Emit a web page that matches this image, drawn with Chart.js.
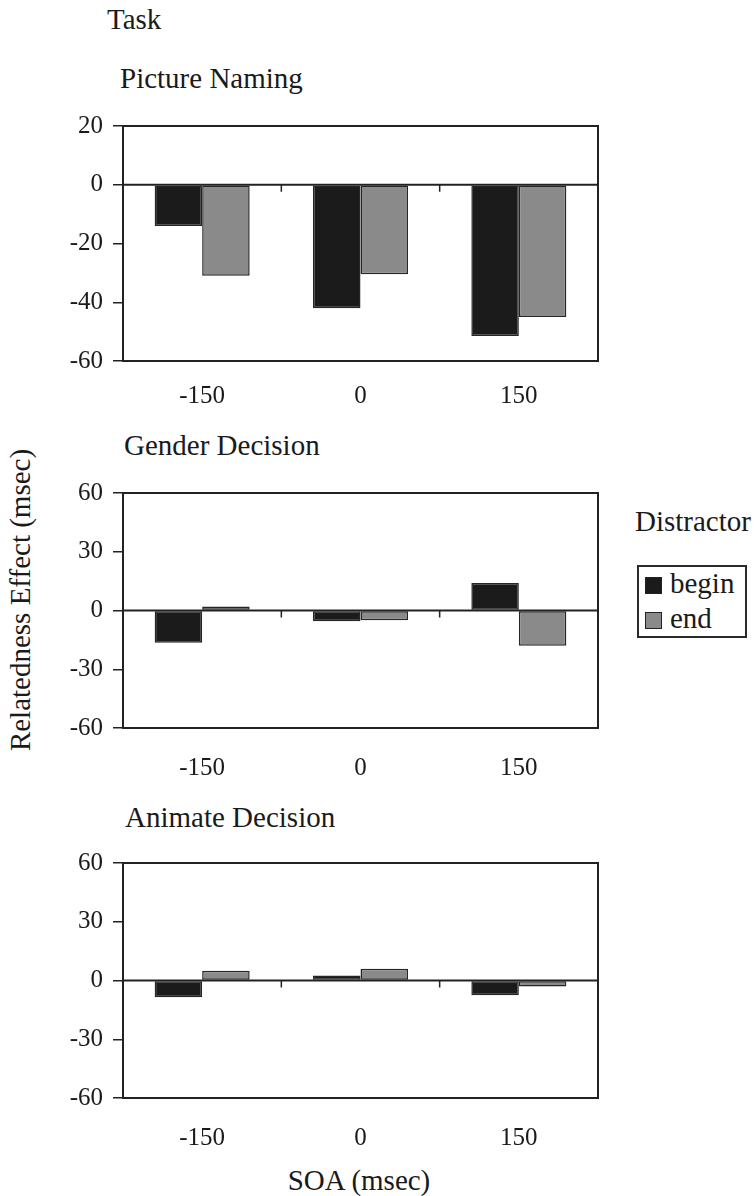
<!DOCTYPE html>
<html><head><meta charset="utf-8">
<script src="https://cdn.jsdelivr.net/npm/chart.js@4.4.0/dist/chart.umd.min.js"></script>
<style>
html,body{margin:0;padding:0;background:#fff;}
body{width:756px;height:1196px;position:relative;overflow:hidden;font-family:"Liberation Serif","Times New Roman",Times,"DejaVu Serif",serif;color:#1a1a1a;}
.t{position:absolute;font-size:29px;line-height:29px;white-space:nowrap;}
canvas{position:absolute;left:0;}
#legend{position:absolute;left:637px;top:565px;width:106px;height:69px;border:2px solid #2a2a2a;}
.sw{position:absolute;width:15px;height:15px;border:1px solid #222;}
</style></head><body>
<div class="t" style="left:107px;top:5px">Task</div>
<div class="t" id="title1" style="left:120px;top:64px"></div>
<div class="t" id="title2" style="left:124px;top:431px"></div>
<div class="t" id="title3" style="left:125px;top:803px"></div>
<div class="t" id="xtitle" style="left:359px;top:1166px;transform:translateX(-50%)"></div>
<div class="t" id="ytitle" style="left:20px;top:600px;transform:translate(-50%,-50%) rotate(-90deg)"></div>
<div class="t" id="legtitle" style="left:635px;top:507px"></div>
<div id="legend"></div>
<canvas id="c1" width="600" height="330" style="top:101px"></canvas>
<canvas id="c2" width="600" height="330" style="top:468px"></canvas>
<canvas id="c3" width="600" height="330" style="top:838px"></canvas>
<script>
// ---- data ----
const soaLabels = ['-150', '0', '150'];
const seriesNames = ['begin', 'end'];
const panelTitles = ['Picture Naming', 'Gender Decision', 'Animate Decision'];
const namingBegin = [-14, -42, -51.5];
const namingEnd = [-31, -30.5, -45];
const genderBegin = [-16.5, -5.5, 14];
const genderEnd = [2, -5, -18];
const animateBegin = [-8.5, 2.5, -7.5];
const animateEnd = [5, 6, -3];
const namingTicks = [-60, -40, -20, 0, 20];
const decisionTicks = [-60, -30, 0, 30, 60];
const xTitle = 'SOA (msec)';
const yTitle = 'Relatedness Effect (msec)';
const legendTitle = 'Distractor';

// ---- styles ----
const seriesColors = ['#1b1b1b', '#8a8a8a'];
const FONT = '"Liberation Serif", "Times New Roman", Times, "DejaVu Serif", serif';
const TXT = '#1a1a1a';

document.getElementById('title1').textContent = panelTitles[0];
document.getElementById('title2').textContent = panelTitles[1];
document.getElementById('title3').textContent = panelTitles[2];
document.getElementById('xtitle').textContent = xTitle;
document.getElementById('ytitle').textContent = yTitle;
document.getElementById('legtitle').textContent = legendTitle;
const leg = document.getElementById('legend');
seriesNames.forEach((n, i) => {
  const sw = document.createElement('div');
  sw.className = 'sw';
  sw.style.left = '6px';
  sw.style.top = (10 + i * 35) + 'px';
  sw.style.background = seriesColors[i];
  leg.appendChild(sw);
  const t = document.createElement('div');
  t.className = 't';
  t.style.left = '31px';
  t.style.top = (2 + i * 35) + 'px';
  t.textContent = n;
  leg.appendChild(t);
});

const framePlugin = {
  id: 'frame',
  afterDatasetsDraw(chart) {
    const { ctx, chartArea: a, scales: { x, y } } = chart;
    ctx.save();
    ctx.strokeStyle = '#222';
    ctx.lineWidth = 2;
    ctx.strokeRect(a.left, a.top, a.right - a.left, a.bottom - a.top);
    const y0 = y.getPixelForValue(0);
    ctx.beginPath();
    ctx.moveTo(a.left, y0);
    ctx.lineTo(a.right, y0);
    ctx.stroke();
    ctx.lineWidth = 1.5;
    for (let i = 1; i < x.ticks.length; i++) {
      const xb = (x.getPixelForValue(i - 1) + x.getPixelForValue(i)) / 2;
      ctx.beginPath();
      ctx.moveTo(xb, y0);
      ctx.lineTo(xb, y0 + 7);
      ctx.stroke();
    }
    ctx.restore();
  }
};

function makePanel(id, begin, end, ticks, labelPad) {
  const min = ticks[0], max = ticks[ticks.length - 1];
  const step = ticks[1] - ticks[0];
  new Chart(document.getElementById(id), {
    type: 'bar',
    data: {
      labels: soaLabels,
      datasets: [begin, end].map((d, i) => ({
        label: seriesNames[i],
        data: d,
        backgroundColor: seriesColors[i],
        borderColor: '#262626',
        borderWidth: 1.5,
        borderSkipped: false,
        categoryPercentage: 0.6,
        barPercentage: 1.0
      }))
    },
    options: {
      responsive: false,
      animation: false,
      devicePixelRatio: 1,
      layout: { padding: { top: 15, right: 2, left: 0, bottom: 0 } },
      plugins: { legend: { display: false }, tooltip: { enabled: false } },
      scales: {
        x: {
          grid: { display: false },
          border: { display: false },
          ticks: { color: TXT, font: { family: FONT, size: 25 }, padding: labelPad, maxRotation: 0, autoSkip: false },
          afterFit: (s) => { s.height = 70; }
        },
        y: {
          min: min, max: max,
          afterBuildTicks: (s) => { s.ticks = ticks.map(v => ({ value: v })); },
          ticks: { stepSize: step, color: TXT, font: { family: FONT, size: 25 }, padding: 10 },
          grid: { drawOnChartArea: false, drawTicks: true, tickLength: 10, tickColor: '#222', lineWidth: 1.5 },
          border: { display: false },
          afterFit: (s) => { s.width = 123; }
        }
      }
    },
    plugins: [framePlugin]
  });
}

makePanel('c1', namingBegin, namingEnd, namingTicks, 12);
makePanel('c2', genderBegin, genderEnd, decisionTicks, 17);
makePanel('c3', animateBegin, animateEnd, decisionTicks, 17);
</script>
</body></html>
